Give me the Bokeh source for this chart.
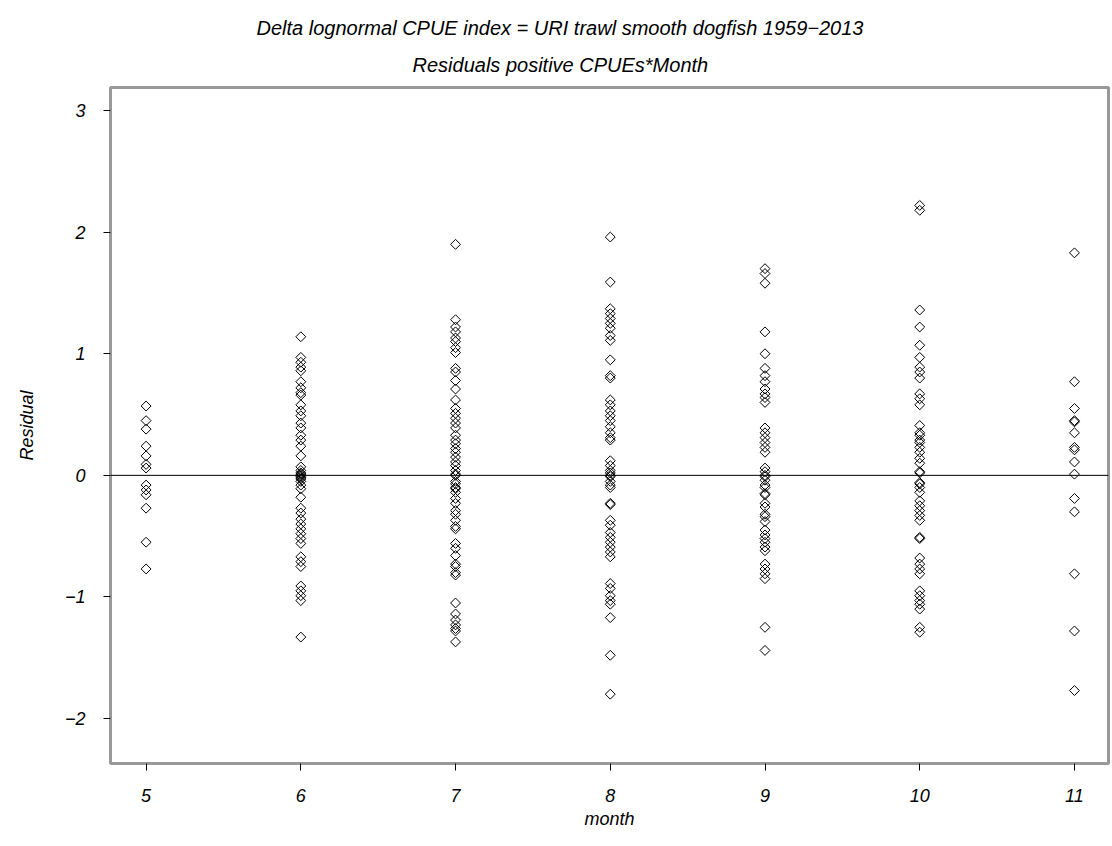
from bokeh.plotting import figure
from bokeh.models import Span, Title, FixedTicker, ColumnDataSource
from bokeh.embed import file_html
from bokeh.resources import INLINE

title_line1 = "Delta lognormal CPUE index = URI trawl smooth dogfish 1959\u22122013"
title_line2 = "Residuals positive CPUEs*Month"
x_label = "month"
y_label = "Residual"

months = [5, 6, 7, 8, 9, 10, 11]
x_ticks = [5, 6, 7, 8, 9, 10, 11]
y_ticks = [-2, -1, 0, 1, 2, 3]

res_m5 = [0.57, 0.45, 0.38, 0.24, 0.16, 0.09, 0.06, -0.08, -0.12, -0.16, -0.27, -0.55, -0.77]
res_m6 = [1.14, 0.97, 0.93, 0.89, 0.86, 0.77, 0.72, 0.68, 0.66, 0.58, 0.53, 0.49, 0.43, 0.39,
          0.33, 0.29, 0.24, 0.16, 0.07, 0.04, 0.02, 0.01, 0.0, -0.01, -0.02, -0.03, -0.05,
          -0.08, -0.11, -0.18, -0.27, -0.31, -0.36, -0.40, -0.44, -0.48, -0.52, -0.56, -0.67,
          -0.71, -0.75, -0.91, -0.95, -0.99, -1.03, -1.33]
res_m7 = [1.90, 1.28, 1.22, 1.18, 1.13, 1.10, 1.05, 1.01, 0.88, 0.85, 0.78, 0.71, 0.62, 0.55,
          0.51, 0.47, 0.43, 0.39, 0.33, 0.29, 0.26, 0.22, 0.19, 0.15, 0.11, 0.08, 0.04, 0.01,
          0.0, -0.05, -0.07, -0.10, -0.11, -0.14, -0.19, -0.23, -0.29, -0.32, -0.37, -0.42,
          -0.44, -0.56, -0.60, -0.66, -0.73, -0.75, -0.80, -0.82, -1.05, -1.14, -1.19, -1.23,
          -1.26, -1.28, -1.37]
res_m8 = [1.96, 1.59, 1.37, 1.33, 1.29, 1.25, 1.21, 1.15, 1.11, 0.95, 0.82, 0.80, 0.62, 0.58,
          0.53, 0.49, 0.45, 0.40, 0.35, 0.31, 0.29, 0.12, 0.08, 0.04, 0.02, 0.0, -0.01, -0.05,
          -0.08, -0.10, -0.23, -0.24, -0.37, -0.41, -0.47, -0.51, -0.55, -0.59, -0.63, -0.67,
          -0.89, -0.93, -0.99, -1.03, -1.06, -1.17, -1.48, -1.80]
res_m9 = [1.70, 1.66, 1.58, 1.18, 1.00, 0.88, 0.82, 0.77, 0.71, 0.67, 0.64, 0.60, 0.39, 0.35,
          0.31, 0.27, 0.23, 0.19, 0.06, 0.03, 0.0, -0.01, -0.04, -0.08, -0.10, -0.15, -0.16,
          -0.23, -0.26, -0.32, -0.34, -0.38, -0.45, -0.49, -0.52, -0.55, -0.59, -0.62, -0.73,
          -0.77, -0.81, -0.85, -1.25, -1.44]
res_m10 = [2.22, 2.18, 1.36, 1.22, 1.07, 0.97, 0.89, 0.85, 0.80, 0.67, 0.63, 0.58, 0.41, 0.35,
           0.33, 0.29, 0.27, 0.23, 0.19, 0.14, 0.10, 0.03, 0.02, -0.06, -0.07, -0.10, -0.14,
           -0.21, -0.25, -0.29, -0.33, -0.37, -0.51, -0.52, -0.68, -0.73, -0.77, -0.81, -0.95,
           -0.99, -1.03, -1.06, -1.10, -1.25, -1.29]
res_m11 = [1.83, 0.77, 0.55, 0.45, 0.44, 0.35, 0.23, 0.21, 0.11, 0.01, -0.19, -0.30, -0.81,
           -1.28, -1.77]

residuals = [res_m5, res_m6, res_m7, res_m8, res_m9, res_m10, res_m11]

xs, ys = [], []
for m, vals in zip(months, residuals):
    xs.extend([m] * len(vals))
    ys.extend(vals)
src = ColumnDataSource(dict(month=xs, residual=ys))

FONT = "Liberation Sans"

p = figure(width=1112, height=846, output_backend="svg", toolbar_location=None,
           x_range=(4.77, 11.22), y_range=(-2.37, 3.19),
           min_border_left=110, min_border_right=4, min_border_top=87, min_border_bottom=83)
p.title = None
t2 = Title(text=title_line2, align="left", text_font=FONT, text_font_style="italic",
           text_font_size="20px", text_color="black", standoff=24, offset=302)
t1 = Title(text=title_line1, align="left", text_font=FONT, text_font_style="italic",
           text_font_size="20px", text_color="black", standoff=1, offset=146)
p.add_layout(t2, "above")
p.add_layout(t1, "above")

p.grid.visible = False
p.background_fill_color = "white"
p.border_fill_color = "white"
p.outline_line_color = "#999999"
p.outline_line_width = 3

p.scatter("month", "residual", source=src, marker="square", angle=0.785398, size=7,
          line_color="black", line_width=1, fill_color=None)

p.add_layout(Span(location=0, dimension="width", line_color="black", line_width=1))

for ax in (p.xaxis[0], p.yaxis[0]):
    ax.axis_line_color = None
    ax.major_tick_line_color = "black"
    ax.major_tick_out = 7
    ax.major_tick_in = 0
    ax.minor_tick_line_color = None
    ax.major_label_text_font = FONT
    ax.major_label_text_font_style = "italic"
    ax.major_label_text_font_size = "18px"
    ax.major_label_text_color = "black"
    ax.axis_label_text_font = FONT
    ax.axis_label_text_font_style = "italic"
    ax.axis_label_text_font_size = "18px"
    ax.axis_label_text_color = "black"

p.xaxis.ticker = FixedTicker(ticks=x_ticks)
p.yaxis.ticker = FixedTicker(ticks=y_ticks)
p.yaxis.major_label_overrides = {t: (str(t).replace("-", "\u2212")) for t in y_ticks}
p.xaxis.axis_label = x_label
p.yaxis.axis_label = y_label
p.xaxis.major_label_standoff = 18
p.yaxis.major_label_standoff = 18
p.xaxis.axis_label_standoff = 4
p.yaxis.axis_label_standoff = 25

open("out.html", "w").write(file_html(p, INLINE))
